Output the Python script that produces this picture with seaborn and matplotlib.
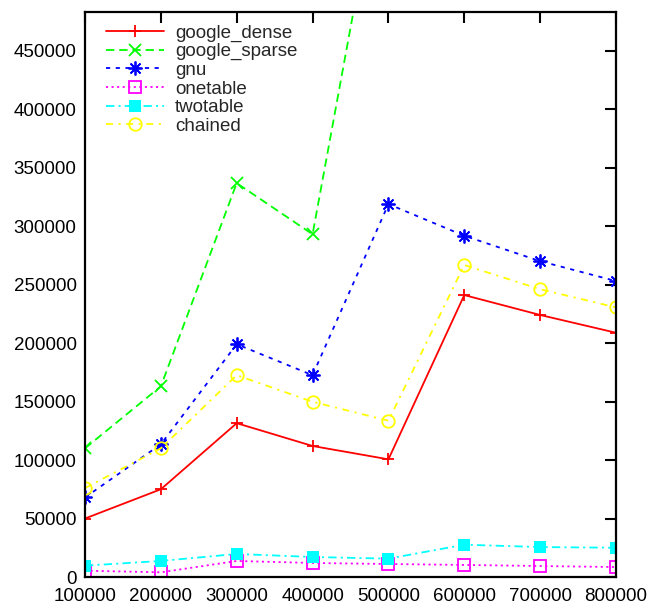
import matplotlib
matplotlib.use("Agg")
import matplotlib.pyplot as plt
import seaborn as sns
import pandas as pd

# Table sizes on the x axis
sizes = [100000, 200000, 300000, 400000, 500000, 600000, 700000, 800000]

# Measured values per hash table implementation
google_dense = [50000, 75000, 131500, 112000, 100600, 241000, 224000, 208800]
google_sparse = [110000, 163000, 336700, 293000, 646000]
gnu = [68000, 113500, 199000, 172500, 318800, 291700, 270000, 253000]
onetable = [5400, 4000, 13700, 12000, 11100, 10300, 9400, 8500]
twotable = [9700, 13700, 19700, 17100, 15700, 27600, 25600, 25000]
chained = [76000, 110000, 172500, 149800, 133600, 266700, 246000, 230500]

x_ticks = [100000, 200000, 300000, 400000, 500000, 600000, 700000, 800000]
y_ticks = [0, 50000, 100000, 150000, 200000, 250000, 300000, 350000, 400000, 450000]

sns.set_style("white")
plt.rcParams["font.family"] = ["Liberation Sans", "DejaVu Sans"]
plt.rcParams["lines.scale_dashes"] = False

fig = plt.figure(figsize=(6.51, 6.08), dpi=100)
ax = fig.add_axes([85 / 651, 31 / 608, 531 / 651, 565 / 608])

series = [
    ("google_dense", google_dense, "#ff0000", "-", dict(marker="+", markersize=9, markeredgewidth=1.3)),
    ("google_sparse", google_sparse, "#00ff00", (0, (6, 3.5)), dict(marker="x", markersize=8, markeredgewidth=1.3)),
    ("gnu", gnu, "#0000ff", (0, (3, 4)), dict(marker=(8, 2, 0), markersize=10, markeredgewidth=1.3)),
    ("onetable", onetable, "#ff00ff", (0, (1.5, 2.5)), dict(marker="s", markersize=9, markerfacecolor="none", markeredgewidth=1.3)),
    ("twotable", twotable, "#00ffff", (0, (6, 3, 1.5, 3)), dict(marker="s", markersize=8.5, markeredgewidth=0)),
    ("chained", chained, "#ffff00", (0, (5, 4, 1.5, 4)), dict(marker="o", markersize=9, markerfacecolor="none", markeredgewidth=1.3)),
]

for name, vals, color, ls, mk in series:
    df = pd.DataFrame({"size": sizes[: len(vals)], "value": vals})
    sns.lineplot(data=df, x="size", y="value", ax=ax, color=color, linestyle=ls,
                 linewidth=1.3, label=name, markeredgecolor=color, **mk)

ax.set_xlim(100000, 800000)
ax.set_ylim(0, 483000)
ax.set_xticks(x_ticks)
ax.set_yticks(y_ticks)
ax.set_xticklabels([str(v) for v in x_ticks])
ax.set_yticklabels([str(v) for v in y_ticks])
ax.set_xlabel("")
ax.set_ylabel("")

ax.tick_params(axis="both", which="major", direction="in", length=8, width=1.5,
               top=True, right=True, labelsize=13.5, colors="black")
ax.tick_params(axis="y", pad=6)
ax.tick_params(axis="x", pad=8)
for sp in ax.spines.values():
    sp.set_visible(True)
    sp.set_linewidth(1.6)
    sp.set_color("black")

leg = ax.legend(loc="upper left", bbox_to_anchor=(0.016, 1.0), frameon=False,
                fontsize=13.5, handlelength=3.1, handletextpad=0.6,
                labelspacing=0.08, borderaxespad=0.3, borderpad=0.35)

fig.savefig("out.png", dpi=100)
